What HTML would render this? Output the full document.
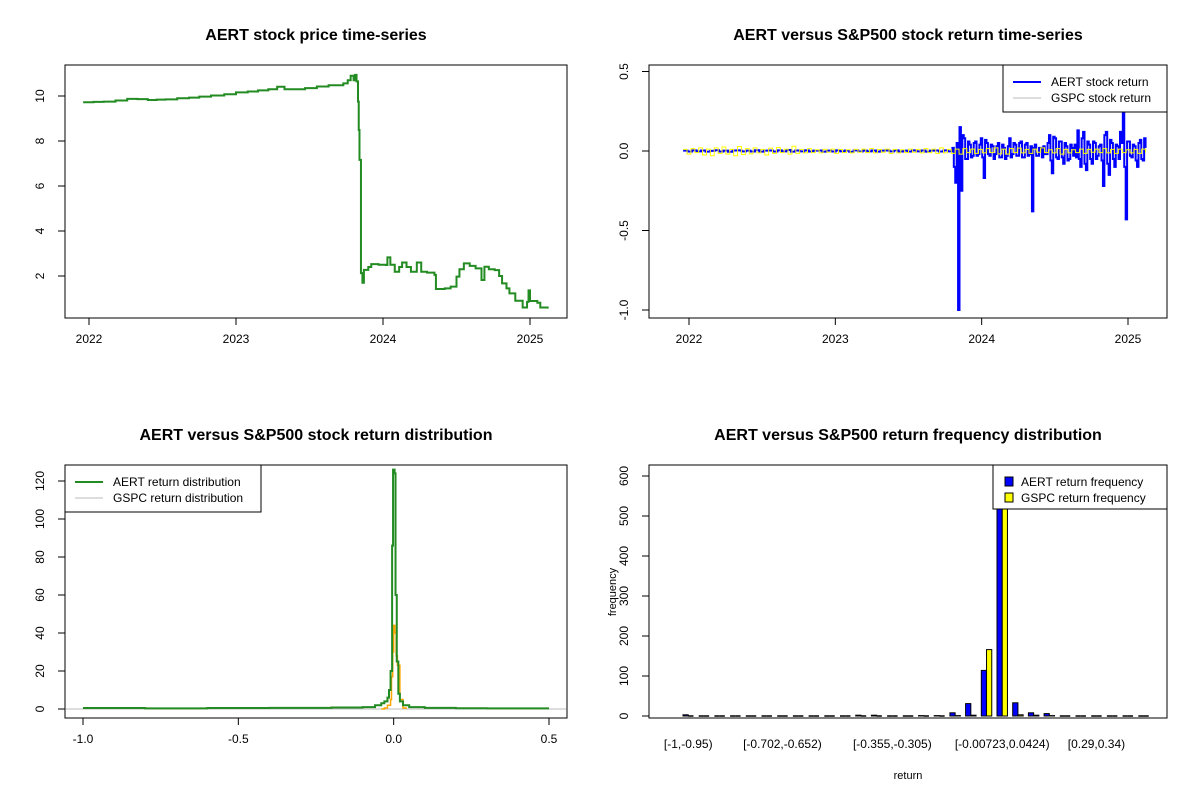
<!DOCTYPE html>
<html><head><meta charset="utf-8"><style>
body{margin:0;background:#fff}
svg{display:block;font-family:"Liberation Sans",Arial,sans-serif}
</style></head><body>
<svg id="s" width="1200" height="800" viewBox="0 0 1200 800"></svg>
<script>
// ---------- data ----------
const priceDates=[2021.96,2022.03,2022.10,2022.18,2022.26,2022.33,2022.40,2022.46,2022.52,2022.6,2022.68,2022.75,2022.83,2022.92,2023.0,2023.08,2023.15,2023.22,2023.28,2023.33,2023.39,2023.47,2023.55,2023.63,2023.73,2023.76,2023.78,2023.80,2023.81,2023.82,2023.83,2023.835,2023.84,2023.85,2023.86,2023.87,2023.90,2023.92,2023.97,2024.02,2024.03,2024.05,2024.08,2024.11,2024.13,2024.16,2024.19,2024.23,2024.26,2024.30,2024.35,2024.36,2024.42,2024.46,2024.50,2024.52,2024.55,2024.59,2024.63,2024.67,2024.69,2024.72,2024.76,2024.79,2024.81,2024.84,2024.86,2024.9,2024.95,2024.98,2024.99,2025.0,2025.05,2025.07,2025.12];
const priceVals=[9.72,9.74,9.75,9.8,9.87,9.86,9.82,9.84,9.85,9.9,9.93,9.97,10.02,10.08,10.16,10.2,10.25,10.3,10.41,10.3,10.3,10.35,10.42,10.48,10.56,10.7,10.9,10.7,10.94,10.65,9.75,8.49,7.16,2.13,1.7,2.27,2.4,2.53,2.5,2.49,2.83,2.5,2.19,2.4,2.6,2.4,2.19,2.6,2.19,2.15,2.05,1.42,1.45,1.53,1.97,2.3,2.56,2.45,2.34,1.82,2.41,2.3,2.26,2.0,1.67,1.45,1.23,0.9,0.6,0.85,1.36,0.89,0.81,0.6,0.55];
const aertPre=[0.002,-0.003,0.004,-0.002,0.003,-0.004,0.001,0.005,-0.003,0.002,-0.005,0.003,0.004,-0.002,0.002,-0.003,0.005,-0.004,0.002,0.003,-0.003,0.004,-0.002,0.006,-0.004,0.003,-0.002,0.004,-0.003,0.002,0.003,-0.004,0.002,-0.003,0.004,-0.002,0.003,-0.005,0.004,-0.003,0.002,-0.002,0.003,-0.004,0.002,0.003,-0.002,0.004,-0.003,0.002,-0.003,0.004,-0.002,0.003,-0.004,0.002,0.003,-0.003,0.004,-0.002];
const aertPost=[0.02,-0.1,-0.2,0.05,-1.0,0.15,-0.25,0.1,0.08,-0.05,-0.05,0.06,0.04,-0.04,-0.03,0.05,0.06,-0.03,-0.02,0.04,0.08,-0.04,-0.17,0.07,0.05,-0.02,-0.03,0.04,0.03,-0.05,-0.02,0.03,0.05,-0.04,-0.04,0.04,0.02,-0.05,-0.03,0.03,0.08,-0.04,-0.02,0.05,0.04,-0.03,-0.03,0.05,0.06,-0.04,-0.04,0.04,0.05,-0.03,-0.02,0.03,-0.38,0.02,0.04,-0.03,-0.03,0.02,0.02,-0.04,0.03,-0.02,-0.02,0.05,0.1,-0.06,-0.14,0.09,0.08,-0.04,-0.05,0.06,0.06,-0.04,-0.08,0.05,0.03,-0.06,-0.05,0.04,0.02,-0.03,0.04,-0.04,0.13,-0.05,-0.1,0.08,0.12,-0.08,-0.12,0.06,0.04,-0.05,-0.08,0.06,0.05,-0.05,-0.03,0.03,0.04,-0.06,-0.22,0.1,0.12,-0.08,-0.15,0.07,0.05,-0.05,-0.1,0.04,0.03,-0.05,0.12,0.05,0.24,-0.1,-0.43,0.06,0.06,-0.03,-0.04,0.04,0.03,-0.06,-0.1,0.05,0.07,-0.05,-0.06,0.08,0.02];
const gspcRet=[0.01,-0.02,0.015,-0.01,0.02,-0.025,0.012,-0.03,0.02,-0.015,0.025,-0.02,0.01,-0.03,0.028,-0.022,0.015,-0.018,0.02,-0.012,0.01,-0.025,0.018,-0.015,0.022,-0.01,0.012,-0.02,0.03,-0.015,0.01,-0.012,0.015,-0.01,0.008,-0.012,0.01,-0.008,0.012,-0.015,0.01,-0.01,0.008,-0.012,0.01,-0.008,0.012,-0.01,0.015,-0.012,0.01,-0.008,0.012,-0.015,0.01,-0.012,0.008,-0.01,0.012,-0.008,0.01,-0.012,0.015,-0.01,0.012,-0.015,0.02,-0.012,0.01,-0.015,0.012,-0.02,0.015,-0.01,0.012,-0.015,0.01,-0.012,0.015,-0.01,0.02,-0.018,0.012,-0.02,0.015,-0.01,0.018,-0.012,0.01,-0.015,0.012,-0.008,0.02,-0.01,0.008,-0.012,0.015,-0.02,0.01,-0.012,0.008,-0.01,0.012,-0.015,0.01,-0.008,0.012,-0.01,0.015,-0.012,0.01,-0.015,0.012,-0.01,0.008,-0.012,0.01,-0.015,0.012,-0.01];
const densX=[-1.0,-0.8,-0.6,-0.4,-0.2,-0.1,-0.06,-0.04,-0.03,-0.02,-0.015,-0.01,-0.005,-0.002,0,0.003,0.006,0.01,0.015,0.02,0.03,0.05,0.1,0.2,0.3,0.5];
const densAert=[0.5,0.3,0.5,0.6,0.8,1,2,3,4,6,10,20,86,126,126,124,60,25,8,4,2,1,0.6,0.4,0.3,0.3];
const densGx=[-0.04,-0.03,-0.02,-0.01,-0.007,-0.003,0,0.004,0.008,0.012,0.02,0.03,0.04];
const densGspc=[0,0.5,2,5,17,30,44,40,28,23,5,0.5,0];
const histLabels=["[-1,-0.95)","[-0.702,-0.652)","[-0.355,-0.305)","[-0.00723,0.0424)","[0.29,0.34)"];
const histLabelBins=[0,6,13,20,26];
const aertCounts=[3,0,0,0,0,0,0,0,0,0,0,2,2,0,0,1,1,8,31,114,690,33,8,6,0,0,0,0,0,0];
const gspcCounts=[0,0,0,0,0,0,0,0,0,0,0,0,0,0,0,0,0,1,2,166,720,3,2,1,0,0,0,0,0,0];

const S=document.getElementById('s');
const NS='http://www.w3.org/2000/svg';
function el(tag,attrs,parent){const e=document.createElementNS(NS,tag);for(const k in attrs)e.setAttribute(k,attrs[k]);(parent||S).appendChild(e);return e;}
function txt(x,y,t,size,opts){const e=el('text',Object.assign({x:x,y:y,'font-size':size,'text-anchor':'middle',fill:'#000'},opts||{}));e.textContent=t;return e;}
function lin(d0,d1,p0,p1){return v=>p0+(v-d0)*(p1-p0)/(d1-d0);}
function steps(xs,ys){let d='';for(let i=0;i<xs.length;i++){if(i==0)d+='M'+xs[0]+','+ys[0];else d+='H'+xs[i]+'V'+ys[i];}return d;}
function frame(x0,y0,x1,y1,title,name){
  const g=el('g',{});
  
  
  const r=el('rect',{x:x0,y:y0,width:x1-x0,height:y1-y0,fill:'none',stroke:'#000','stroke-width':1},g);
  
  
  const t=txt((x0+x1)/2,40,title,16,{'font-weight':'bold',y:y0-25});
  
  
  g.appendChild(t);
  return g;
}
function xaxis(g,vals,labels,sx,y){vals.forEach((v,i)=>{const x=sx(v);el('line',{x1:x,x2:x,y1:y,y2:y+7,stroke:'#000'},g);const t=txt(x,y+25,labels[i],12);g.appendChild(t);});}
function yaxis(g,vals,labels,sy,x){vals.forEach((v,i)=>{const y=sy(v);el('line',{x1:x,x2:x-7,y1:y,y2:y,stroke:'#000'},g);const t=txt(x-21,y,labels[i],12,{transform:'rotate(-90 '+(x-21)+' '+y+')'});g.appendChild(t);});}
function legend(g,x0,y0,w,h,items){const lg=el('g',{},g);el('rect',{x:x0,y:y0,width:w,height:h,fill:'#fff',stroke:'#000'},lg);items.forEach((it,i)=>{const y=y0+17+i*16;if(it.box){el('rect',{x:x0+12,y:y-5,width:8,height:9,fill:it.c,stroke:'#000'},lg);}else{el('line',{x1:x0+10,x2:x0+38,y1:y,y2:y,stroke:it.c,'stroke-width':it.w},lg);}const t=txt(x0+(it.box?28:48),y+4,it.t,12,{'text-anchor':'start'});lg.appendChild(t);});}

// ---------- panel 1 ----------
(function(){
  const g=frame(65,65,567,318,'AERT stock price time-series','price-panel');
  const sx=lin(2022,2025,89,530), sy=lin(10,2,96,276);
  xaxis(g,[2022,2023,2024,2025],['2022','2023','2024','2025'],sx,318);
  yaxis(g,[2,4,6,8,10],['2','4','6','8','10'],sy,65);
  const p=el('path',{d:steps(priceDates.map(sx),priceVals.map(sy)),fill:'none',stroke:'#228b22','stroke-width':2},g);
  
  
})();
// ---------- panel 2 ----------
(function(){
  const g=frame(649,65,1167,318,'AERT versus S&P500 stock return time-series','return-panel');
  const sx=lin(2022,2025,689,1128), sy=lin(0,-1,151,310);
  xaxis(g,[2022,2023,2024,2025],['2022','2023','2024','2025'],sx,318);
  yaxis(g,[-1,-0.5,0,0.5],['-1.0','-0.5','0.0','0.5'],sy,649);
  const ad=[],av=[];
  aertPre.forEach((v,i)=>{ad.push(2021.96+i*(1.84/aertPre.length));av.push(v);});
  aertPost.forEach((v,i)=>{ad.push(2023.8+i*(1.32/(aertPost.length-1)));av.push(v);});
  const a=el('path',{d:steps(ad.map(sx),av.map(sy)),fill:'none',stroke:'#0000ff','stroke-width':2},g);
  
  
  const gd=gspcRet.map((v,i)=>2021.96+i*(3.16/(gspcRet.length-1)));
  const y=el('path',{d:steps(gd.map(sx),gspcRet.map(sy)),fill:'none',stroke:'#ffff00','stroke-width':1},g);
  
  
  legend(g,1003,65,164,47,[{c:'#0000ff',w:2,t:'AERT stock return'},{c:'#bbbbbb',w:1,t:'GSPC stock return'}]);
})();
// ---------- panel 3 ----------
(function(){
  const g=frame(65,465,567,718,'AERT versus S&P500 stock return distribution','density-panel');
  const sx=lin(-1,0.5,83,549), sy=lin(0,120,709,481);
  xaxis(g,[-1,-0.5,0,0.5],['-1.0','-0.5','0.0','0.5'],sx,718);
  yaxis(g,[0,20,40,60,80,100,120],['0','20','40','60','80','100','120'],sy,65);
  const b=el('line',{x1:66,x2:566,y1:sy(0),y2:sy(0),stroke:'#bbbbbb','stroke-width':1},g);
  
  
  const o=el('path',{d:steps(densGx.map(sx),densGspc.map(sy)),fill:'none',stroke:'#ffa500','stroke-width':1.5},g);
  
  
  const d=el('path',{d:steps(densX.map(sx),densAert.map(sy)),fill:'none',stroke:'#228b22','stroke-width':2},g);
  
  
  legend(g,65,465,196,47,[{c:'#228b22',w:2,t:'AERT return distribution'},{c:'#bbbbbb',w:1,t:'GSPC return distribution'}]);
})();
// ---------- panel 4 ----------
(function(){
  const g=frame(649,465,1167,718,'AERT versus S&P500 return frequency distribution','histogram-panel');
  const sy=lin(0,600,716,476);
  yaxis(g,[0,100,200,300,400,500,600],['0','100','200','300','400','500','600'],sy,649);
  const gw=15.7,bw=5.23,x0=683;
  const cp=el('clipPath',{id:'hc'},g);el('rect',{x:649,y:465,width:518,height:253},cp);
  const bars=el('g',{'clip-path':'url(#hc)'},g);
  function bar(x,v,fill,name){
    if(v<=0){const l=el('line',{x1:x,x2:x+bw,y1:sy(0),y2:sy(0),stroke:'#000','stroke-width':1.5},bars);
      
      return;}
    const r=el('rect',{x:x,y:sy(v),width:bw,height:sy(0)-sy(v),fill:fill,stroke:'#000','stroke-width':1},bars);
    
    
  }
  aertCounts.forEach((v,i)=>{
    const x=x0+i*gw;
    bar(x,v,'#0000ff','bar-aert');
    bar(x+bw,gspcCounts[i],'#ffff00','bar-gspc');
  });
  histLabels.forEach((l,i)=>{const t=txt(x0+histLabelBins[i]*gw+bw,748,l,12);g.appendChild(t);});
  const xl=txt(908,779,'return',11);g.appendChild(xl);
  const yl=txt(616,592,'frequency',11,{transform:'rotate(-90 616 592)'});g.appendChild(yl);
  legend(g,993,465,174,44,[{c:'#0000ff',box:1,t:'AERT return frequency'},{c:'#ffff00',box:1,t:'GSPC return frequency'}]);
})();
</script>
</body></html>
